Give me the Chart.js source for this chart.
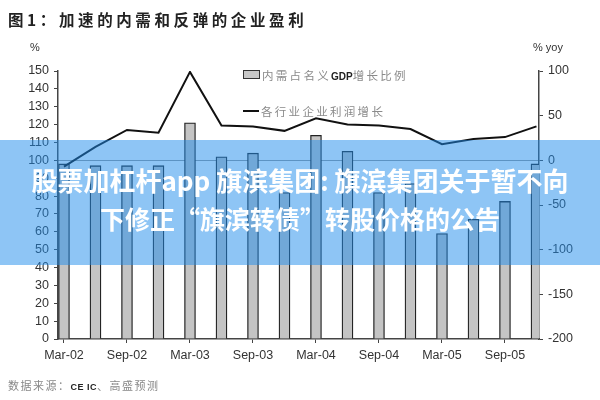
<!DOCTYPE html>
<html>
<head>
<meta charset="utf-8">
<script src="https://cdn.jsdelivr.net/npm/chart.js@4.4.1/dist/chart.umd.min.js"></script>
<style>
  body { margin: 0; background: #fff; }
  #wrap { position: relative; width: 600px; height: 400px; overflow: hidden; font-family: "Noto Sans CJK SC", sans-serif; }
  #chart { position: absolute; left: 0; top: 0; }
  .txt { position: absolute; white-space: nowrap; }
  #title { left: 8px; top: 8px; font-size: 15.5px; font-weight: bold; color: #222; letter-spacing: 3.6px; }
  #unitL { left: 30px; top: 41px; font-family: "Liberation Sans", sans-serif; font-size: 11px; color: #333; }
  #unitR { left: 533px; top: 41px; font-family: "Liberation Sans", sans-serif; font-size: 11px; color: #333; }
  #source { left: 8px; top: 377px; font-size: 11px; color: #888; letter-spacing: 1.5px; }
  #source b { font-family: "Liberation Sans", sans-serif; color: #222; font-size: 9px; letter-spacing: 0.5px; }
  .leg { position: absolute; left: 243px; font-size: 11.5px; color: #8a8a8a; letter-spacing: 2.3px; white-space: nowrap; }
  .leg b { font-family: "Liberation Sans", sans-serif; color: #222; font-size: 10px; letter-spacing: 0; }
  .leg .box { display: inline-block; width: 15px; height: 7px; background: #c8c8c8; border: 1px solid #333; margin-right: 2px; vertical-align: 1px; }
  .leg .ln { display: inline-block; width: 16px; height: 2px; background: #111; margin-right: 2px; vertical-align: 4px; }
  #banner { position: absolute; left: 0; top: 140px; width: 600px; height: 125px; background: rgba(30, 140, 235, 0.5); }
  #banner div { position: absolute; width: 600px; text-align: center; color: #fff; font-weight: bold; }
</style>
</head>
<body>
<div id="wrap">
  <canvas id="chart" width="600" height="400"></canvas>
  <div id="title" class="txt">图1：加速的内需和反弹的企业盈利</div>
  <div id="unitL" class="txt">%</div>
  <div id="unitR" class="txt">% yoy</div>
  <div id="legBar" class="leg" style="top:67px"></div>
  <div id="legLine" class="leg" style="top:103px"></div>
  <div id="source" class="txt">数据来源：<b>CE IC</b>、高盛预测</div>
  <div id="banner">
    <div style="top:21px; font-size:26px">股票加杠杆app 旗滨集团: 旗滨集团关于暂不向</div>
    <div style="top:60px; font-size:25px">下修正“旗滨转债”转股价格的公告</div>
  </div>
</div>
<script>
// 季度 (Mar-02 .. Dec-05)
const quarters = ['Mar-02', 'Jun-02', 'Sep-02', 'Dec-02', 'Mar-03', 'Jun-03', 'Sep-03', 'Dec-03',
                  'Mar-04', 'Jun-04', 'Sep-04', 'Dec-04', 'Mar-05', 'Jun-05', 'Sep-05', 'Dec-05'];
const xTickLabels = ['Mar-02', 'Sep-02', 'Mar-03', 'Sep-03', 'Mar-04', 'Sep-04', 'Mar-05', 'Sep-05'];

// 内需占名义GDP增长比例 (%, 左轴)
const domesticShare = [98, 97, 97, 97, 121, 102, 104, 82, 114, 105, 82, 87, 59, 67, 77, 98];
// 各行业企业利润增长 (% yoy, 右轴)
const profitGrowth = [-7, 15, 34, 31, 99, 39, 38, 33, 47, 40, 39, 35, 18, 24, 26, 38];

const barLabel = '内需占名义GDP增长比例';
const lineLabel = '各行业企业利润增长';

document.getElementById('legBar').innerHTML = '<span class="box"></span>内需占名义<b>GDP</b>增长比例';
document.getElementById('legLine').innerHTML = '<span class="ln"></span>' + lineLabel;

Chart.defaults.font.family = '"Liberation Sans", Arial, sans-serif';
Chart.defaults.color = '#333';

const tickFont = { size: 12.5 };
const axisColor = '#444';

new Chart(document.getElementById('chart').getContext('2d'), {
    data: {
        datasets: [
            {
                type: 'line', label: lineLabel, order: 0, yAxisID: 'yR',
                data: profitGrowth.map((v, i) => ({ x: i, y: v })),
                borderColor: '#111', borderWidth: 2, pointRadius: 0, tension: 0, fill: false
            },
            {
                type: 'bar', label: barLabel, order: 1, yAxisID: 'y',
                data: domesticShare.map((v, i) => ({ x: i, y: v })),
                backgroundColor: '#c4c4c4', borderColor: '#222', borderWidth: 1.3,
                barThickness: 11
            }
        ]
    },
    options: {
        responsive: false,
        animation: false,
        layout: { padding: { top: 71, bottom: 0, left: 0, right: 0 } },
        plugins: { legend: { display: false }, tooltip: { enabled: false } },
        scales: {
            x: {
                type: 'linear', min: -0.19, max: 15.08, offset: false,
                afterBuildTicks: s => { s.ticks = xTickLabels.map(l => ({ value: quarters.indexOf(l) })); },
                afterFit: s => { s.height = 61; },
                ticks: { callback: v => quarters[v], font: tickFont, color: '#333', padding: 5, maxRotation: 0, autoSkip: false },
                grid: { drawOnChartArea: false, offset: false, tickLength: 4, color: axisColor },
                border: { color: axisColor, width: 1.5 }
            },
            y: {
                position: 'left', min: 0, max: 150,
                afterFit: s => { s.width = 58; },
                ticks: { stepSize: 10, font: tickFont, color: '#333', padding: 5, autoSkip: false },
                grid: { drawOnChartArea: false, tickLength: 4, color: axisColor },
                border: { color: axisColor, width: 1.5 }
            },
            yR: {
                position: 'right', min: -200, max: 100,
                afterFit: s => { s.width = 61; },
                ticks: { stepSize: 50, font: tickFont, color: '#333', padding: 5, autoSkip: false },
                grid: {
                    drawOnChartArea: true, tickLength: 4, tickColor: axisColor,
                    color: ctx => (ctx.tick && ctx.tick.value === 0) ? '#9a9a9a' : 'rgba(0,0,0,0)'
                },
                border: { color: axisColor, width: 1.5 }
            }
        }
    }
});
</script>
</body>
</html>
